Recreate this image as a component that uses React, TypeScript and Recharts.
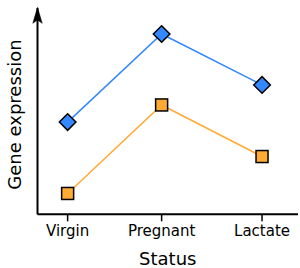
import React from 'react';
import { LineChart, Line, XAxis, YAxis, ReferenceDot } from 'recharts';

// Categories and their horizontal positions
const categories = ['Virgin', 'Pregnant', 'Lactate'];
const categoryPos = [0, 0.967, 2];

// Series values (arbitrary expression units)
const blueValues = [4.47, 8.74, 6.27];
const orangeValues = [1.01, 5.3, 2.8];

const data = categories.map((c, i) => ({
  name: c,
  x: categoryPos[i],
  blue: blueValues[i],
  orange: orangeValues[i],
}));

const BLUE = '#3388ff';
const ORANGE = '#ffaa33';

const Diamond = (props: any) => {
  const { cx, cy } = props;
  if (cx == null || cy == null) return null;
  const r = 8.3;
  return (
    <polygon
      points={`${cx},${cy - r} ${cx + r},${cy} ${cx},${cy + r} ${cx - r},${cy}`}
      fill={BLUE}
      stroke="#000"
      strokeWidth={1.5}
      strokeLinejoin="miter"
    />
  );
};

const Square = (props: any) => {
  const { cx, cy } = props;
  if (cx == null || cy == null) return null;
  const r = 6;
  return <rect x={cx - r} y={cy - r} width={2 * r} height={2 * r} fill={ORANGE} stroke="#000" strokeWidth={1.5} />;
};

const Arrow = (props: any) => {
  const { cx, cy } = props;
  if (cx == null || cy == null) return null;
  return (
    <polygon
      points={`${cx},${cy - 0.7} ${cx + 4.7},${cy + 15.3} ${cx},${cy + 12} ${cx - 4.7},${cy + 15.3}`}
      fill="#000"
      stroke="#000"
      strokeWidth={0.5}
    />
  );
};

const YLabel = (props: any) => {
  const vb = props.viewBox || {};
  const x = (vb.x ?? 0) + 21.4;
  const y = (vb.y ?? 0) + (vb.height ?? 0) / 2 + 3.4;
  return (
    <text x={x} y={y} transform={`rotate(-90, ${x}, ${y})`} textAnchor="middle" fontSize={18} fill="#000" fontFamily="DejaVu Sans">
      Gene expression
    </text>
  );
};

const X_MIN = -0.31;
const X_MAX = 2.37;
const Y_MAX = 10;

export default function App() {
  return (
    <div style={{ position: 'absolute', left: 0, top: 0, background: '#fff' }}>
      <LineChart
        width={300}
        height={268}
        data={data}
        margin={{ top: 8, right: 2, bottom: 0, left: 0 }}
        style={{ fontFamily: 'DejaVu Sans' }}
      >
        <XAxis
          dataKey="x"
          type="number"
          domain={[X_MIN, X_MAX]}
          ticks={categoryPos}
          allowDataOverflow
          tickFormatter={(v: number) => categories[categoryPos.indexOf(v)] ?? ''}
          height={53.7}
          tickSize={7}
          tickMargin={4}
          axisLine={{ stroke: '#000', strokeWidth: 2 }}
          tickLine={{ stroke: '#000', strokeWidth: 1.5 }}
          tick={{ fontSize: 15, fill: '#000' }}
          label={{ value: 'Status', position: 'insideBottom', offset: 3, fontSize: 18, fill: '#000' }}
        />
        <YAxis
          type="number"
          domain={[0, Y_MAX]}
          allowDataOverflow
          width={37.5}
          tick={false}
          tickLine={false}
          axisLine={{ stroke: '#000', strokeWidth: 2 }}
          label={{ content: YLabel }}
        />
        <Line
          dataKey="blue"
          type="linear"
          stroke={BLUE}
          strokeWidth={1.5}
          dot={<Diamond />}
          activeDot={false}
          isAnimationActive={false}
        />
        <Line
          dataKey="orange"
          type="linear"
          stroke={ORANGE}
          strokeWidth={1.5}
          dot={<Square />}
          activeDot={false}
          isAnimationActive={false}
        />
        <ReferenceDot x={X_MIN} y={Y_MAX} r={0} shape={<Arrow />} ifOverflow="visible" />
      </LineChart>
    </div>
  );
}
